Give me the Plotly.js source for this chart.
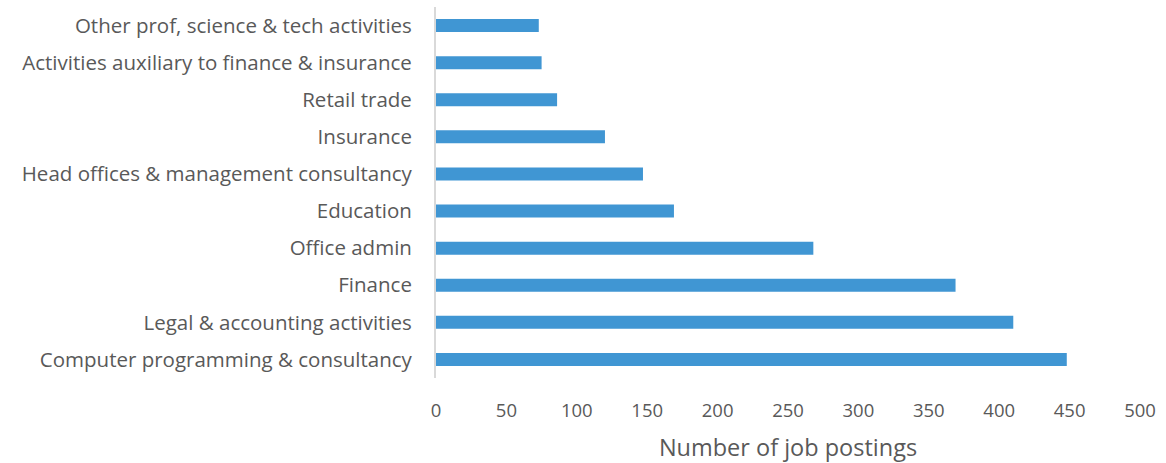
<!DOCTYPE html>
<html>
<head>
<meta charset="utf-8">
<script src="https://cdn.plot.ly/plotly-3.0.1.min.js"></script>
<style>
  html, body { margin: 0; padding: 0; background: #ffffff; }
  #chart { width: 1166px; height: 463px; }
</style>
</head>
<body>
<div id="chart"></div>
<script>
// Sectors, listed top to bottom
const sectors = [
  "Other prof, science & tech activities",
  "Activities auxiliary to finance & insurance",
  "Retail trade",
  "Insurance",
  "Head offices & management consultancy",
  "Education",
  "Office admin",
  "Finance",
  "Legal & accounting activities",
  "Computer programming & consultancy"
];

// Number of job postings per sector
const postings = [73, 75, 86, 120, 147, 169, 268, 369, 410, 448];

// Axis ticks
const xTicks = [0, 50, 100, 150, 200, 250, 300, 350, 400, 450, 500];

const fontFamily = "'Open Sans', Lato, 'Liberation Sans', sans-serif";
const textGrey = "#595959";

const trace = {
  type: "bar",
  orientation: "h",
  y: sectors,
  x: postings,
  marker: { color: "#4096D3", line: { width: 0 } },
  hoverinfo: "x+y"
};

const layout = {
  width: 1166,
  height: 463,
  margin: { l: 436, r: 26, t: 7, b: 85 },
  paper_bgcolor: "#ffffff",
  plot_bgcolor: "#ffffff",
  bargap: 0.65,
  showlegend: false,
  font: { family: fontFamily, color: textGrey },
  xaxis: {
    range: [0, 500],
    tickvals: xTicks,
    ticktext: xTicks.map(String),
    showgrid: false,
    zeroline: false,
    showline: false,
    ticks: "",
    ticklabelstandoff: 19,
    tickfont: { size: 18.5, color: textGrey, family: fontFamily },
    title: {
      text: "Number of job postings",
      font: { size: 23.5, color: textGrey, family: fontFamily },
      standoff: 19
    },
    fixedrange: true
  },
  yaxis: {
    type: "category",
    autorange: "reversed",
    showgrid: false,
    zeroline: false,
    showline: true,
    linecolor: "#d9d9d9",
    linewidth: 2,
    ticks: "",
    ticklabelstandoff: 18,
    tickfont: { size: 20.5, color: textGrey, family: fontFamily },
    fixedrange: true
  }
};

Plotly.newPlot("chart", [trace], layout, { displayModeBar: false, staticPlot: true });
</script>
</body>
</html>
